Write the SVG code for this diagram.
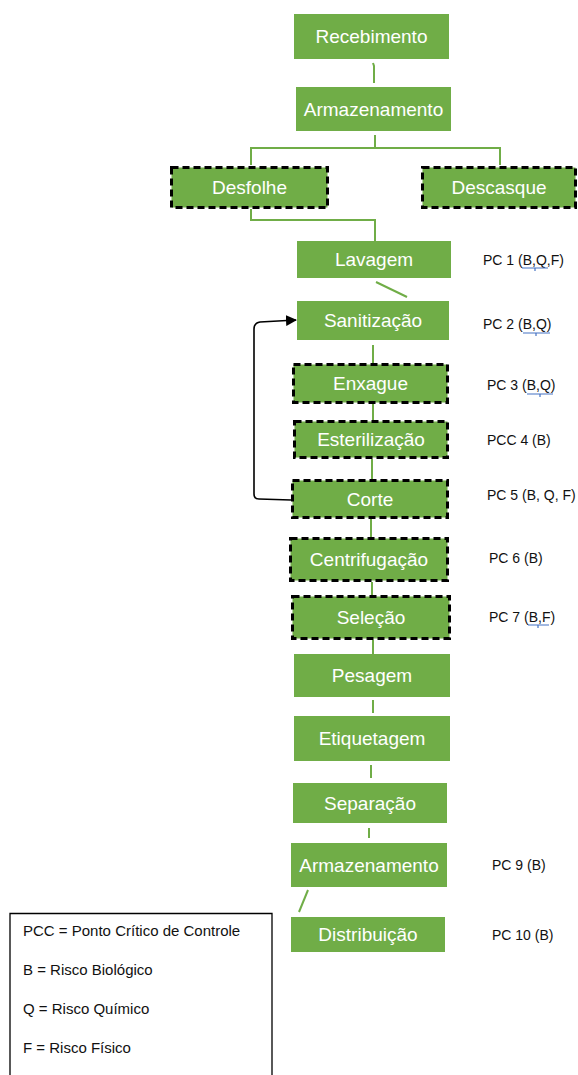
<svg xmlns="http://www.w3.org/2000/svg" width="578" height="1075" viewBox="0 0 578 1075">
  <style>
    .box { fill: #70AD47; }
    .dash { fill: #70AD47; stroke: #000; stroke-width: 3; stroke-dasharray: 7 4; }
    .lbl { fill: #fff; font-family: "Liberation Sans", Arial, sans-serif; font-size: 19px; text-anchor: middle; }
    .pc { fill: #111; font-family: "Liberation Sans", Arial, sans-serif; font-size: 14px; }
    .leg { fill: #111; font-family: "Liberation Sans", Arial, sans-serif; font-size: 15px; }
    .con { fill: none; stroke: #70AD47; stroke-width: 2; }
    .spell { fill: none; stroke: #4472C4; stroke-width: 1.2; }
  </style>
  <defs>
    <marker id="arrow" markerWidth="11" markerHeight="11" refX="10" refY="5.5" orient="auto" markerUnits="userSpaceOnUse">
      <path d="M0,0 L11,5.5 L0,11 Z" fill="#000"/>
    </marker>
  </defs>
  <rect width="578" height="1075" fill="#fff"/>

  <!-- connectors -->
  <g id="connectors">
    <path class="con" d="M373,63 L374,66 L374,83"/>
    <path class="con" d="M375,135 V148 M251,165 V148 H500 V165"/>
    <path class="con" d="M251,209 V220 H375 V241"/>
    <path class="con" d="M376,282 L407,297"/>
    <path class="con" d="M373,345 V363"/>
    <path class="con" d="M373,404 V420"/>
    <path class="con" d="M372,459 V479"/>
    <path class="con" d="M371,519 V537"/>
    <path class="con" d="M372,582 V595"/>
    <path class="con" d="M373,640 V654"/>
    <path class="con" d="M373,700 V713"/>
    <path class="con" d="M371,765 V778"/>
    <path class="con" d="M369,828 V838"/>
    <path class="con" d="M308,890 L299,912"/>
    <path fill="none" stroke="#000" stroke-width="1.6" d="M291,500 L259,499 Q254,499 254,494 L254,329 Q254,323 260,322 L296,320" marker-end="url(#arrow)"/>
  </g>

  <!-- process steps -->
  <g id="recebimento"><rect class="box" x="294" y="14" width="155" height="45"/><text class="lbl" x="371.5" y="43">Recebimento</text></g>
  <g id="armazenamento1"><rect class="box" x="296" y="87" width="155" height="44"/><text class="lbl" x="373.5" y="116">Armazenamento</text></g>
  <g id="desfolhe"><rect class="dash" x="171.5" y="167.5" width="156" height="40"/><text class="lbl" x="249.5" y="194">Desfolhe</text></g>
  <g id="descasque"><rect class="dash" x="422.5" y="167.5" width="153" height="40"/><text class="lbl" x="499" y="194">Descasque</text></g>
  <g id="lavagem"><rect class="box" x="297" y="241" width="154" height="37"/><text class="lbl" x="374" y="266">Lavagem</text></g>
  <g id="sanitizacao"><rect class="box" x="297" y="301" width="152" height="39"/><text class="lbl" x="373" y="327">Sanitização</text></g>
  <g id="enxague"><rect class="dash" x="293.5" y="364.5" width="154" height="38"/><text class="lbl" x="370.5" y="390">Enxague</text></g>
  <g id="esterilizacao"><rect class="dash" x="294.5" y="421.5" width="153" height="36"/><text class="lbl" x="371" y="446">Esterilização</text></g>
  <g id="corte"><rect class="dash" x="292.5" y="480.5" width="155" height="37"/><text class="lbl" x="370" y="506">Corte</text></g>
  <g id="centrifugacao"><rect class="dash" x="290.5" y="538.5" width="157" height="42"/><text class="lbl" x="369" y="566">Centrifugação</text></g>
  <g id="selecao"><rect class="dash" x="292.5" y="596.5" width="157" height="42"/><text class="lbl" x="371" y="624">Seleção</text></g>
  <g id="pesagem"><rect class="box" x="294" y="654" width="156" height="43"/><text class="lbl" x="372" y="682">Pesagem</text></g>
  <g id="etiquetagem"><rect class="box" x="294" y="716" width="156" height="45"/><text class="lbl" x="372" y="745">Etiquetagem</text></g>
  <g id="separacao"><rect class="box" x="293" y="783" width="154" height="40"/><text class="lbl" x="370" y="810">Separação</text></g>
  <g id="armazenamento2"><rect class="box" x="291" y="843" width="156" height="44"/><text class="lbl" x="369" y="872">Armazenamento</text></g>
  <g id="distribuicao"><rect class="box" x="291" y="917" width="154" height="35"/><text class="lbl" x="368" y="941">Distribuição</text></g>

  <!-- control point labels -->
  <g id="control-points">
    <text class="pc" x="483" y="265">PC 1 (B,Q,F)</text>
    <path class="spell" d="M522,268 H548 M535,268 V271"/>
    <text class="pc" x="483" y="329">PC 2 (B,Q)</text>
    <path class="spell" d="M523,333 H550 M536,333 V336"/>
    <text class="pc" x="487" y="390">PC 3 (B,Q)</text>
    <path class="spell" d="M527,394 H553 M540,394 V397"/>
    <text class="pc" x="487" y="445">PCC 4 (B)</text>
    <text class="pc" x="487" y="500">PC 5 (B, Q, F)</text>
    <text class="pc" x="489" y="563">PC 6 (B)</text>
    <text class="pc" x="489" y="622">PC 7 (B,F)</text>
    <path class="spell" d="M528,625 H549 M538,625 V628"/>
    <text class="pc" x="492" y="870">PC 9 (B)</text>
    <text class="pc" x="492" y="940">PC 10 (B)</text>
  </g>

  <!-- legend -->
  <g id="legend">
    <path d="M10,1080 V913.5 H272 V1080" fill="none" stroke="#000" stroke-width="1.3"/>
    <text class="leg" x="23" y="936">PCC = Ponto Crítico de Controle</text>
    <text class="leg" x="23" y="975">B = Risco Biológico</text>
    <text class="leg" x="23" y="1014">Q = Risco Químico</text>
    <text class="leg" x="23" y="1053">F = Risco Físico</text>
  </g>
</svg>
